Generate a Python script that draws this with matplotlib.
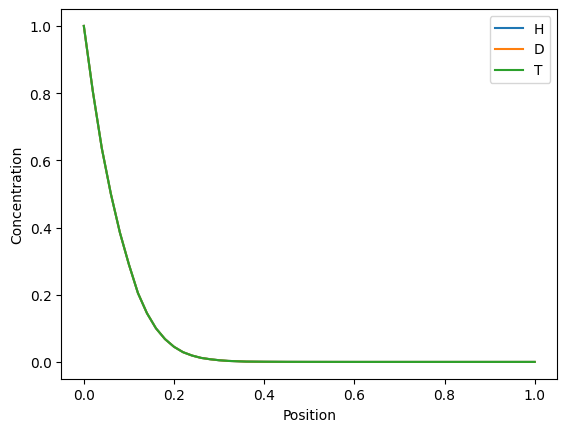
from matplotlib import pyplot as plt

# concentration profiles (all three isotopes overlap)
position = [0.00, 0.02, 0.04, 0.06, 0.08, 0.10, 0.12, 0.14, 0.16, 0.18,
            0.20, 0.22, 0.24, 0.26, 0.28, 0.30, 0.32, 0.34, 0.36, 0.40,
            0.45, 0.50, 0.60, 0.70, 0.80, 0.90, 1.00]
conc_H = [1.000, 0.805, 0.635, 0.500, 0.385, 0.290, 0.205, 0.145, 0.100, 0.068,
          0.045, 0.029, 0.019, 0.012, 0.008, 0.005, 0.003, 0.002, 0.001, 0.0005,
          0.0002, 0.0001, 0.0, 0.0, 0.0, 0.0, 0.0]
conc_D = list(conc_H)
conc_T = list(conc_H)

labels = ['H', 'D', 'T']

fig, ax = plt.subplots(figsize=(6.4, 4.8), dpi=100)
for lab, c in zip(labels, [conc_H, conc_D, conc_T]):
    ax.plot(position, c, label=lab)

ax.set_xlabel('Position')
ax.set_ylabel('Concentration')
ax.legend()
fig.savefig('out.png', bbox_inches='tight')
